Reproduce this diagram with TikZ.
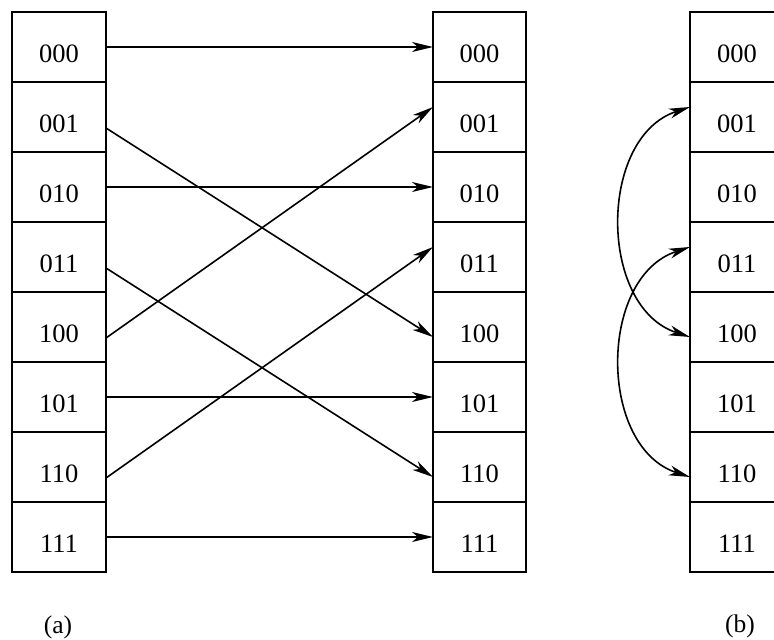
\documentclass[tikz,border=0pt]{standalone}
\usepackage{fontspec}
\setmainfont{Liberation Serif}
\usetikzlibrary{arrows.meta}
\begin{document}
\begin{tikzpicture}[x=1pt,y=-1pt,
  cell/.style={draw, line width=1.8pt, minimum width=94pt, minimum height=70pt, inner sep=0pt, outer sep=0pt},
  lbl/.style={anchor=base, inner sep=0pt, font=\fontsize{26.5}{30}\selectfont},
  subcap/.style={anchor=base, inner sep=0pt, font=\fontsize{25.5}{30}\selectfont},
  conn/.style={line width=1.6pt, -{Stealth[length=21pt,width=10pt,inset=6pt]}},
  dconn/.style={line width=1.6pt, {Stealth[length=21pt,width=10pt,inset=6pt]}-{Stealth[length=21pt,width=10pt,inset=6pt]}}]
\clip (0,0) rectangle (774,640);
\fill[white] (0,0) rectangle (774,640);
\foreach \i/\t in {0/000,1/001,2/010,3/011,4/100,5/101,6/110,7/111} {
  \node[cell] (L\i) at (59, {47+70*\i}) {};
  \node[lbl] (Lt\i) at (59, {62.5+70*\i}) {\t};
  \node[cell, minimum width=93pt] (M\i) at (479.5, {47+70*\i}) {};
  \node[lbl] (Mt\i) at (479.5, {62.5+70*\i}) {\t};
  \node[cell] (R\i) at (737, {47+70*\i}) {};
  \node[lbl] (Rt\i) at (737, {62.5+70*\i}) {\t};
}
\draw[conn] (L0.east) -- (M0.west);
\draw[conn] ([yshift=-11pt]L1.east) -- ([yshift=-10pt]M4.west);
\draw[conn] (L2.east) -- (M2.west);
\draw[conn] ([yshift=-11pt]L3.east) -- ([yshift=-10pt]M6.west);
\draw[conn] ([yshift=-11pt]L4.east) -- ([yshift=10pt]M1.west);
\draw[conn] (L5.east) -- (M5.west);
\draw[conn] ([yshift=-11pt]L6.east) -- ([yshift=10pt]M3.west);
\draw[conn] (L7.east) -- (M7.west);
\draw[dconn] ([yshift=10pt]R1.west) .. controls +(-92,30) and +(-92,-30) .. ([yshift=-10pt]R4.west);
\draw[dconn] ([yshift=10pt]R3.west) .. controls +(-92,30) and +(-92,-30) .. ([yshift=-10pt]R6.west);
\node[subcap] (capa) at (58,633) {(a)};
\node[subcap] (capb) at (740,632) {(b)};
\end{tikzpicture}
\end{document}
